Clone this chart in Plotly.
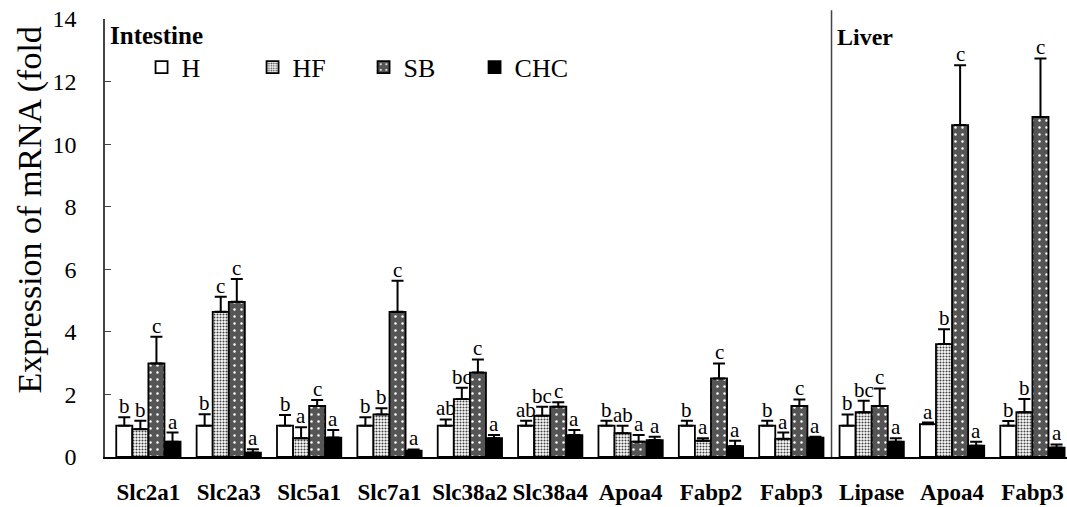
import plotly.graph_objects as go

genes = ["Slc2a1", "Slc2a3", "Slc5a1", "Slc7a1", "Slc38a2", "Slc38a4", "Apoa4",
         "Fabp2", "Fabp3", "Lipase", "Apoa4", "Fabp3"]
n_intestine = 9  # first 9 genes: intestine, last 3: liver

series_names = ["H", "HF", "SB", "CHC"]

H = [1.00, 1.00, 1.00, 1.00, 1.00, 1.00, 1.00, 1.00, 1.00, 1.00, 1.05, 1.00]
H_err = [0.27, 0.37, 0.34, 0.27, 0.20, 0.16, 0.16, 0.16, 0.16, 0.36, 0.05, 0.15]
HF = [0.89, 4.64, 0.60, 1.36, 1.85, 1.32, 0.76, 0.52, 0.58, 1.43, 3.61, 1.43]
HF_err = [0.27, 0.48, 0.35, 0.20, 0.36, 0.29, 0.24, 0.08, 0.20, 0.37, 0.47, 0.42]
SB = [2.99, 4.96, 1.63, 4.64, 2.70, 1.61, 0.49, 2.51, 1.63, 1.63, 10.61, 10.87]
SB_err = [0.85, 0.73, 0.19, 0.99, 0.42, 0.14, 0.21, 0.48, 0.21, 0.56, 1.91, 1.87]
CHC = [0.49, 0.14, 0.62, 0.20, 0.60, 0.70, 0.54, 0.35, 0.62, 0.49, 0.36, 0.30]
CHC_err = [0.29, 0.11, 0.24, 0.04, 0.10, 0.16, 0.11, 0.17, 0.03, 0.11, 0.13, 0.10]

H_let = ["b", "b", "b", "b", "ab", "ab", "b", "b", "b", "b", "a", "b"]
HF_let = ["b", "c", "a", "b", "bc", "bc", "ab", "a", "a", "bc", "b", "b"]
SB_let = ["c", "c", "c", "c", "c", "c", "a", "c", "c", "c", "c", "c"]
CHC_let = ["a", "a", "a", "a", "a", "a", "a", "a", "a", "a", "a", "a"]

y_ticks = [0, 2, 4, 6, 8, 10, 12, 14]

values = [H, HF, SB, CHC]
errors = [H_err, HF_err, SB_err, CHC_err]
letters = [H_let, HF_let, SB_let, CHC_let]

serif = "Liberation Serif, Times New Roman, serif"

styles = [
    dict(color="white", pattern=dict(shape="")),
    dict(color="white", pattern=dict(shape=".", fgcolor="#444444", bgcolor="#ffffff",
                                     size=3, solidity=0.4, fillmode="replace")),
    dict(color="#555555", pattern=dict(shape=".", fgcolor="#ffffff", bgcolor="#555555",
                                       size=7, solidity=0.1, fillmode="replace")),
    dict(color="black", pattern=dict(shape="")),
]

bar_w = 0.2
idx = list(range(len(genes)))
fig = go.Figure()

annotations = []
for k, name in enumerate(series_names):
    off = (k - 1.5) * bar_w
    xs = [i + off for i in idx]
    fig.add_trace(go.Bar(
        x=xs, y=values[k], width=bar_w, name=name,
        marker=dict(color=styles[k]["color"], pattern=styles[k]["pattern"],
                    line=dict(color="black", width=1.8)),
        error_y=dict(type="data", symmetric=False, array=errors[k],
                     arrayminus=[0] * len(genes), color="black", thickness=2, width=6),
    ))
    for i in idx:
        annotations.append(dict(
            x=xs[i], y=values[k][i] + errors[k][i], xref="x", yref="y",
            text=letters[k][i], showarrow=False, yanchor="bottom", yshift=-3,
            font=dict(family=serif, size=21, color="black"),
        ))

x_min, x_max = -0.54, 11.43
sep_x = (n_intestine - 0.5 - x_min) / (x_max - x_min)

annotations += [
    dict(x=0.003, y=0.962, xref="paper", yref="paper", text="<b>Intestine</b>",
         showarrow=False, xanchor="left", yanchor="middle",
         font=dict(family=serif, size=25, color="black")),
    dict(x=sep_x + 0.004, y=0.958, xref="paper", yref="paper", text="<b>Liver</b>",
         showarrow=False, xanchor="left", yanchor="middle",
         font=dict(family=serif, size=24, color="black")),
    dict(x=-0.078, y=0.565, xref="paper", yref="paper", text="Expression of mRNA (fold",
         showarrow=False, textangle=-90, xanchor="center", yanchor="middle",
         font=dict(family=serif, size=34, color="black")),
]

fig.update_layout(
    width=1067, height=507,
    margin=dict(l=105, r=0, t=19, b=50, autoexpand=False),
    plot_bgcolor="white", paper_bgcolor="white",
    barmode="overlay",
    showlegend=True,
    legend=dict(orientation="h", x=0.038, y=0.89, xanchor="left", yanchor="middle",
                font=dict(family=serif, size=26, color="black"),
                entrywidth=66, entrywidthmode="pixels",
                bgcolor="rgba(0,0,0,0)", traceorder="normal"),
    annotations=annotations,
    shapes=[dict(type="line", xref="paper", yref="paper", x0=sep_x, x1=sep_x,
                 y0=0, y1=1.02, line=dict(color="#444444", width=1.5))],
)
fig.update_xaxes(
    range=[x_min, x_max], tickvals=idx, ticktext=[f"<b>{g}</b>" for g in genes],
    showline=True, linecolor="black", linewidth=1.5, showgrid=False, zeroline=False,
    ticks="", ticklabelstandoff=14, tickangle=0, automargin=False,
    ticklabeloverflow="allow",
    tickfont=dict(family=serif, size=23, color="black"),
)
fig.update_yaxes(
    range=[0, 14], tickvals=y_ticks, showline=True, linecolor="#444444", linewidth=1.5,
    showgrid=False, zeroline=False, ticks="inside", ticklen=6, tickcolor="#444444",
    ticklabelstandoff=22, automargin=False, ticklabeloverflow="allow",
    tickfont=dict(family=serif, size=24, color="black"),
)

fig.write_html(
    "out.html",
    config={"displayModeBar": False},
    post_script="document.body.style.margin='0px';document.body.style.overflow='hidden';",
)
